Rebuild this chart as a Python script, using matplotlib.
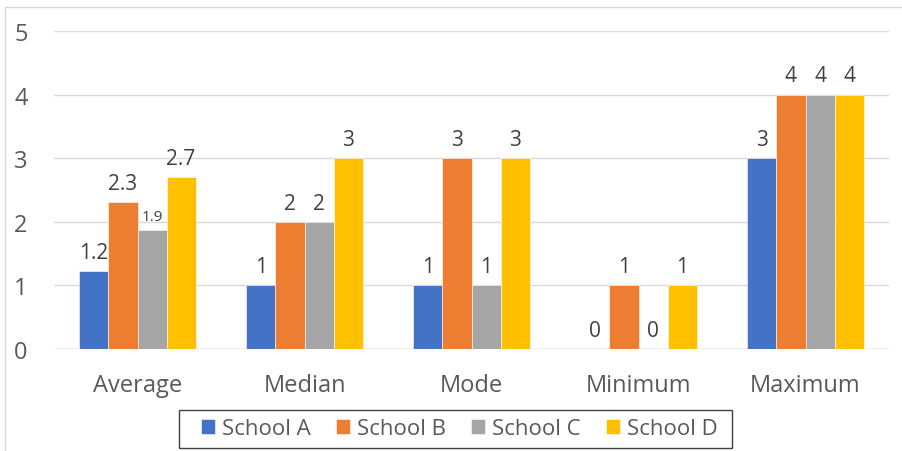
import matplotlib
matplotlib.use("Agg")
import matplotlib.pyplot as plt
import numpy as np
from matplotlib.patches import Rectangle

categories = ["Average", "Median", "Mode", "Minimum", "Maximum"]
series_names = ["School A", "School B", "School C", "School D"]
school_a = [1.23, 1, 1, 0, 3]
school_b = [2.31, 2, 3, 1, 4]
school_c = [1.87, 2, 1, 0, 4]
school_d = [2.70, 3, 3, 1, 4]
colors = ["#4472C4", "#ED7D31", "#A5A5A5", "#FFC000"]
y_ticks = [0, 1, 2, 3, 4, 5]

plt.rcParams["font.family"] = ["Open Sans", "DejaVu Sans"]
text_color = "#595959"

fig = plt.figure(figsize=(9.02, 4.52), dpi=100)
ax = fig.add_axes([0.0599, 0.2257, 0.9257, 0.7035])

# light chart frame (left and top edges visible)
fig.patches.append(Rectangle((5 / 902, -0.1), 1.2, 1 - 8 / 452 + 0.1,
                             transform=fig.transFigure, fill=False,
                             edgecolor="#d9d9d9", linewidth=1.0, zorder=0))

x = np.arange(len(categories))
width = 0.174
all_series = [school_a, school_b, school_c, school_d]
for i, (vals, name, col) in enumerate(zip(all_series, series_names, colors)):
    pos = x + (i - 1.5) * width
    ax.bar(pos, vals, width, color=col, label=name, zorder=3,
           edgecolor="white", linewidth=0.4)
    for p, v in zip(pos, vals):
        if float(v).is_integer():
            lbl = f"{int(v)}"
        else:
            lbl = f"{v:.1f}"
        small = (name == "School C" and not float(v).is_integer())
        ax.annotate(lbl, (p, v), xytext=(0, 7 if small else 9.5),
                    textcoords="offset points", ha="center", va="baseline",
                    fontsize=11 if small else 15, color="#404040")

ax.set_xlim(-0.5, len(categories) - 0.5)
ax.set_ylim(0, 5)
ax.set_yticks(y_ticks)
ax.set_xticks(x)
ax.set_xticklabels(categories)
ax.tick_params(axis="both", length=0, labelsize=17, colors=text_color)
ax.tick_params(axis="y", pad=19)
ax.tick_params(axis="x", pad=17)
ax.yaxis.grid(True, color="#d9d9d9", linewidth=1.0, zorder=0)
ax.set_axisbelow(True)
for s in ax.spines.values():
    s.set_visible(False)
ax.axhline(0, color="#d9d9d9", linewidth=1.0, zorder=2)

# legend entries without their own frame; the box is drawn separately
leg = fig.legend(loc="center", bbox_to_anchor=(0.5094, 0.0487), ncol=4,
                 frameon=False, fontsize=16,
                 handlelength=0.63, handleheight=0.63, handletextpad=0.32,
                 columnspacing=1.12, borderpad=0.2)
for t in leg.get_texts():
    t.set_color(text_color)
fig.patches.append(Rectangle((179 / 902, 1 - 449 / 452), 553 / 902, 38 / 452,
                             transform=fig.transFigure, fill=False,
                             edgecolor="#404040", linewidth=1.0, zorder=5))

fig.savefig("out.png", dpi=100, facecolor="white")
